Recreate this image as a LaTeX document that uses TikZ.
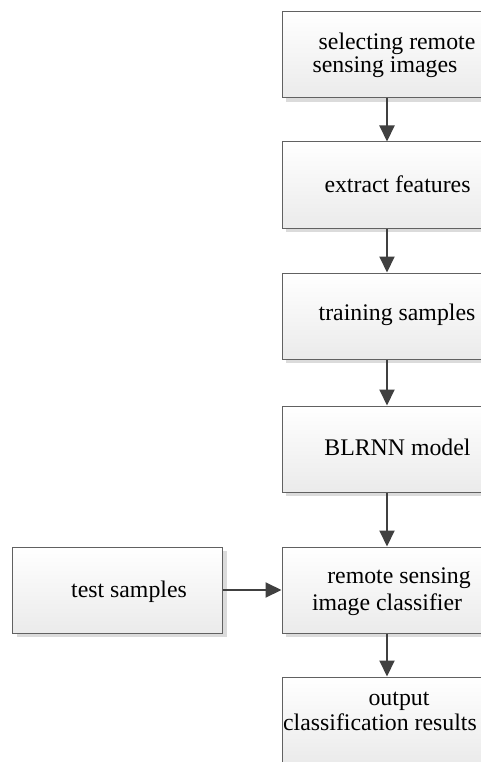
\documentclass[tikz,border=0pt]{standalone}
\usepackage{fontspec}
\setmainfont{Liberation Serif}
\usetikzlibrary{arrows.meta,shadows}
\tikzset{
  x=1pt, y=1pt,
  box/.style={draw=black!62, line width=1pt, minimum width=210pt, minimum height=86pt,
    inner sep=0pt, top color=white, bottom color=black!8,
    drop shadow={shadow xshift=4pt, shadow yshift=-4pt, fill=black!14, opacity=1}},
  txt/.style={anchor=base, inner sep=0pt, font=\fontsize{23.8}{25}\selectfont, text=black},
  arr/.style={draw=black!75, line width=2pt, -{Triangle[length=16pt, width=15pt]}}
}
\begin{document}
\begin{tikzpicture}
\useasboundingbox (0,0) rectangle (481,-762);
\clip (0,0) rectangle (481,-762);
\fill[white] (0,0) rectangle (481,-762);
% boxes
\node[box] (b1) at (387,-55) {};
\node[box] (b2) at (387,-185) {};
\node[box] (b3) at (387,-316) {};
\node[box] (b4) at (387,-449) {};
\node[box] (b5) at (387,-590) {};
\node[box] (bt) at (117.5,-590) {};
\node[box] (b6) at (387,-720) {};
% texts
\node[txt] (t1a) at (397,-50) {selecting remote};
\node[txt] (t1b) at (385,-73) {sensing images};
\node[txt] (t2) at (397.5,-192) {extract features};
\node[txt] (t3) at (397,-320) {training samples};
\node[txt] (t4) at (397.5,-455.5) {BLRNN model};
\node[txt] (t5a) at (399,-583) {remote sensing};
\node[txt] (t5b) at (387,-610) {image classifier};
\node[txt] (tt) at (129,-597) {test samples};
\node[txt] (t6a) at (399,-705) {output};
\node[txt] (t6b) at (380,-730) {classification results};
% arrows
\draw[arr] (b1.south) -- (b2.north);
\draw[arr] (b2.south) -- (b3.north);
\draw[arr] (b3.south) -- (b4.north);
\draw[arr] (b4.south) -- (b5.north);
\draw[arr] (b5.south) -- (b6.north);
\draw[arr] (bt.east) -- (b5.west);
\end{tikzpicture}
\end{document}
